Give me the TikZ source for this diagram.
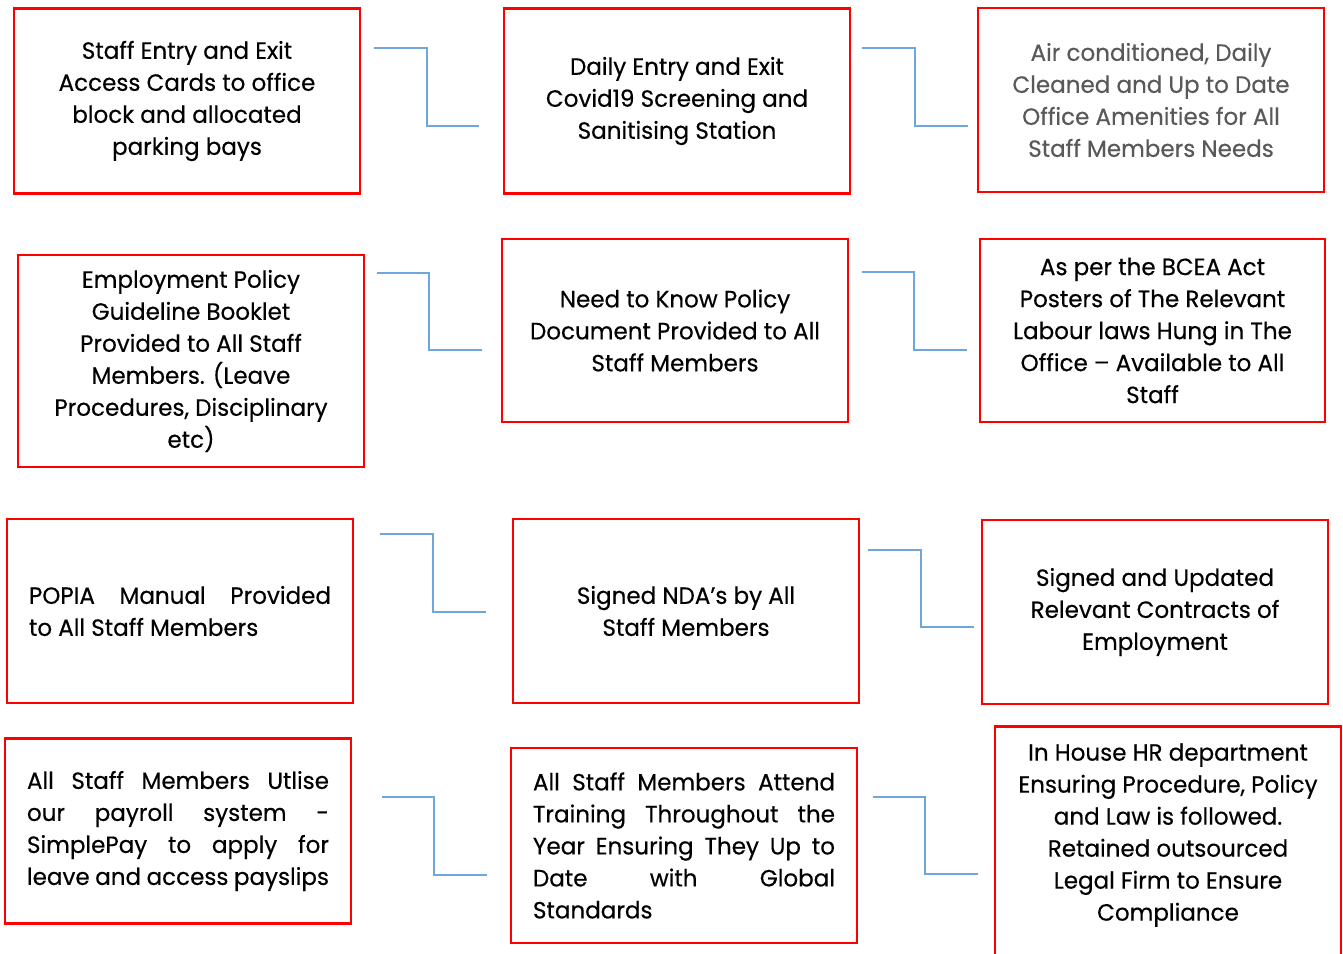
\documentclass[tikz,border=0pt]{standalone}
\usepackage{fontspec}
\setmainfont{Poppins}[FakeStretch=0.98,FakeBold=0.4]
\definecolor{boxred}{RGB}{255,0,0}
\definecolor{connblue}{RGB}{112,166,220}
\definecolor{txtgray}{RGB}{89,89,89}
\newcommand\jline[1]{\makebox[302pt][s]{#1}}
\tikzset{
  box/.style={draw=boxred, line width=2.6pt, minimum width=346pt, minimum height=184pt,
    inner sep=0pt, font=\fontsize{23.5}{32}\selectfont, align=center},
  boxtext/.style={inner sep=0pt, font=\fontsize{23.5}{32}\selectfont, align=center},
  conn/.style={draw=connblue, line width=1.4pt},
}
\begin{document}
\begin{tikzpicture}[x=1pt,y=-1pt]
\useasboundingbox (0,0) rectangle (1343,953);
\clip (0,0) rectangle (1343,953);
% row 1
\node[box, minimum height=185pt] (b1) at (187,101) {Staff Entry and Exit\\Access Cards to office\\block and allocated\\parking bays};
\node[box, minimum height=185pt] (b2) at (677,101) {Daily Entry and Exit\\Covid19 Screening and\\Sanitising Station};
\node[box, text=txtgray] (b3) at (1151,100) {Air conditioned, Daily\\Cleaned and Up to Date\\Office Amenities for All\\Staff Members Needs};
% row 2
\node[box, minimum height=212pt] (b4) at (191,361) {Employment Policy\\Guideline Booklet\\Provided to All Staff\\Members. (Leave\\Procedures, Disciplinary\\etc)};
\node[box, minimum height=183pt] (b5) at (675,330.5) {Need to Know Policy\\Document Provided to All\\Staff Members};
\node[box, minimum height=183pt, minimum width=345pt] (b6) at (1152.5,330.5) {As per the BCEA Act\\Posters of The Relevant\\Labour laws Hung in The\\Office – Available to All\\Staff};
% row 3
\node[box, align=left] (b7) at (180,611) {\jline{POPIA Manual Provided}\\to All Staff Members};
\node[box] (b8) at (686,611) {Signed NDA’s by All\\Staff Members};
\node[box] (b9) at (1155,612) {Signed and Updated\\Relevant Contracts of\\Employment};
% row 4
\node[box, align=left, minimum height=185pt] (b10) at (178,831) {\jline{All Staff Members Utlise}\\\jline{our payroll system -}\\\jline{SimplePay to apply for}\\\jline{leave and access payslips}};
\node[box, align=left, minimum height=195pt] (b11) at (684,845.5) {\jline{All Staff Members Attend}\\\jline{Training Throughout the}\\\jline{Year Ensuring They Up to}\\\jline{Date with Global}\\Standards};
\node[box, anchor=north, minimum height=270pt] (b12) at (1168,725) {};
\node[boxtext] (t12) at (1168,835) {In House HR department\\Ensuring Procedure, Policy\\and Law is followed.\\Retained outsourced\\Legal Firm to Ensure\\Compliance};
% connectors
\coordinate (c1s) at (374,48);  \coordinate (c1e) at (479,126);
\coordinate (c2s) at (862,48);  \coordinate (c2e) at (968,126);
\coordinate (c3s) at (377,273); \coordinate (c3e) at (482,350);
\coordinate (c4s) at (862,272); \coordinate (c4e) at (967,350);
\coordinate (c5s) at (380,534); \coordinate (c5e) at (486,612);
\coordinate (c6s) at (868,550); \coordinate (c6e) at (974,627);
\coordinate (c7s) at (382,797); \coordinate (c7e) at (487,875);
\coordinate (c8s) at (873,797); \coordinate (c8e) at (978,874);
\draw[conn] (c1s) -- ++(53,0) |- (c1e);
\draw[conn] (c2s) -- ++(53,0) |- (c2e);
\draw[conn] (c3s) -- ++(52,0) |- (c3e);
\draw[conn] (c4s) -- ++(52,0) |- (c4e);
\draw[conn] (c5s) -- ++(53,0) |- (c5e);
\draw[conn] (c6s) -- ++(53,0) |- (c6e);
\draw[conn] (c7s) -- ++(52,0) |- (c7e);
\draw[conn] (c8s) -- ++(52,0) |- (c8e);
\end{tikzpicture}
\end{document}
